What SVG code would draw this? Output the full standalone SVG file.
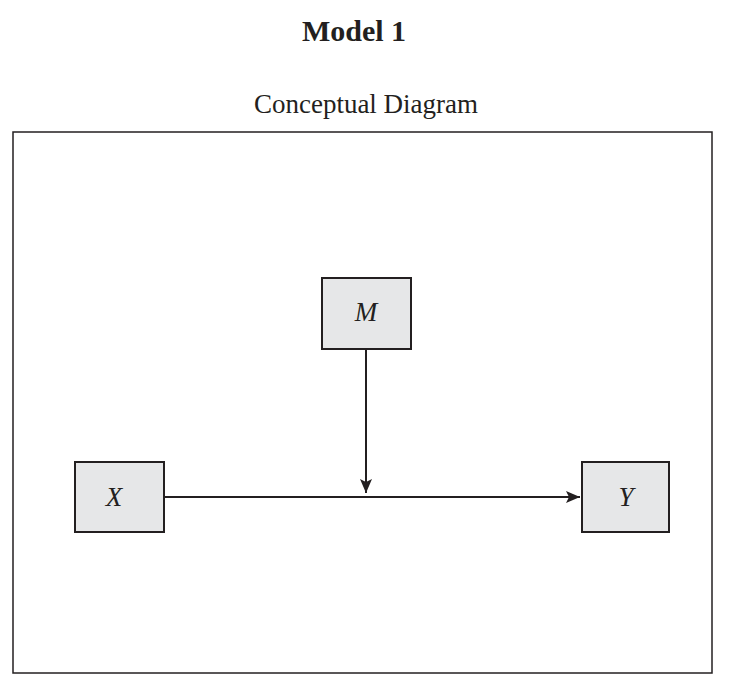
<svg xmlns="http://www.w3.org/2000/svg" width="730" height="686" viewBox="0 0 730 686">
<style>
.t{font-family:"Liberation Serif","Times New Roman",serif;fill:#231f20}
.box{fill:#e6e7e8;stroke:#231f20;stroke-width:2}
.lbl{font-family:"Liberation Serif","Times New Roman",serif;font-style:italic;font-size:27px;fill:#231f20;text-anchor:middle}
.ln{stroke:#231f20;stroke-width:2;fill:none}
</style>
<defs>
<marker id="ah" markerWidth="15" markerHeight="12" refX="14" refY="6" orient="auto" markerUnits="userSpaceOnUse">
<path d="M0,0 L14,6 L0,12 L3,6 Z" fill="#231f20"/>
</marker>
</defs>
<rect width="730" height="686" fill="#fff"/>
<text class="t" x="354" y="41" font-size="30" font-weight="bold" text-anchor="middle">Model 1</text>
<text class="t" x="366" y="113" font-size="27" text-anchor="middle">Conceptual Diagram</text>
<rect x="13" y="132" width="699" height="541" fill="none" stroke="#231f20" stroke-width="1.5"/>
<g id="connectors">
<line class="ln" x1="164" y1="497" x2="580" y2="497" marker-end="url(#ah)"/>
<line class="ln" x1="366" y1="349" x2="366" y2="493" marker-end="url(#ah)"/>
</g>
<g id="node-M">
<rect class="box" x="322" y="278" width="89" height="71"/>
<text class="lbl" x="366" y="321">M</text>
</g>
<g id="node-X">
<rect class="box" x="75" y="462" width="89" height="70"/>
<text class="lbl" x="114" y="506">X</text>
</g>
<g id="node-Y">
<rect class="box" x="582" y="462" width="87" height="70"/>
<text class="lbl" x="626" y="506">Y</text>
</g>
</svg>
